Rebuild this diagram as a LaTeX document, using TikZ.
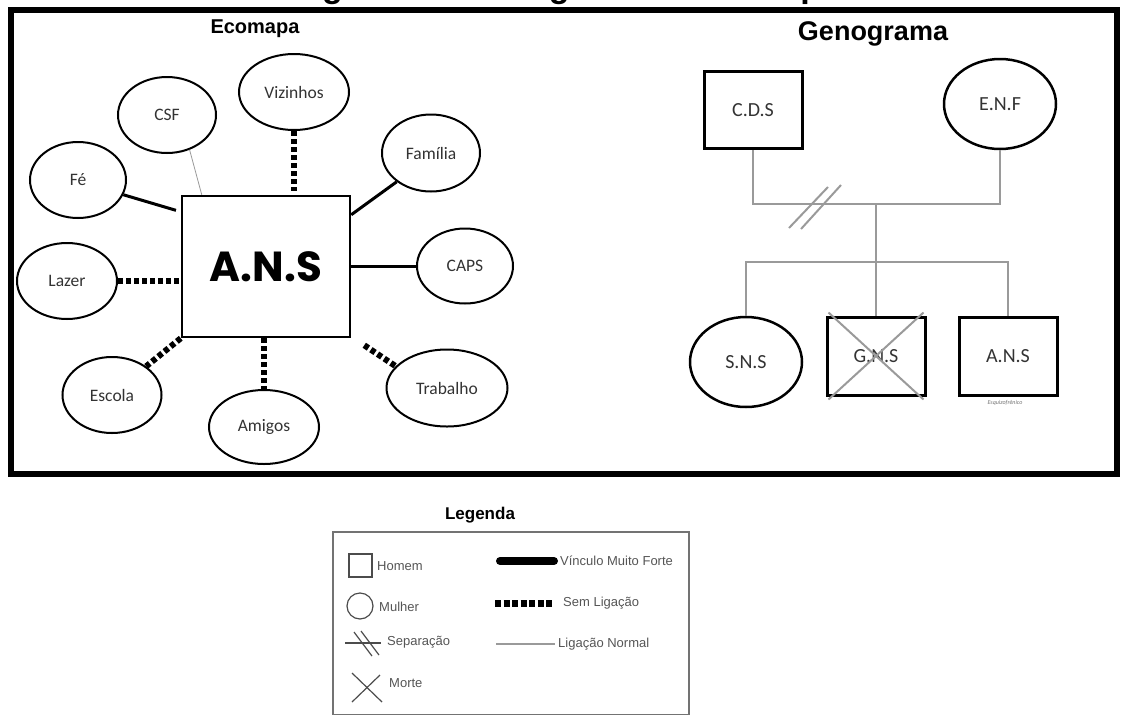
\documentclass[tikz,border=0pt]{standalone}
\usepackage{fontspec}
\setmainfont{Carlito}
\newfontfamily\arialf{Liberation Sans}
\newfontfamily\popf{Poppins}
\usetikzlibrary{shapes.geometric}
\definecolor{gline}{HTML}{9A9A9A}
\definecolor{ltext}{HTML}{555555}
\tikzset{
  eco/.style={ellipse, draw, line width=2pt, inner sep=0pt, text=black!80, font=\fontsize{17.5}{20}\selectfont},
  semlig/.style={line width=6pt, dash pattern=on 5pt off 3pt},
  forte/.style={line width=3pt},
  gbox/.style={rectangle, draw, line width=3pt, inner sep=0pt, minimum width=98pt, minimum height=78pt, text=black!80, font=\fontsize{20}{22}\selectfont},
  gell/.style={ellipse, draw, line width=2.5pt, inner sep=0pt, minimum width=112pt, minimum height=90pt, text=black!80, font=\fontsize{20}{22}\selectfont},
  glink/.style={line width=2pt, draw=gline},
  leg/.style={anchor=west, inner sep=0pt, text=ltext, font=\arialf\fontsize{13}{15}\selectfont},
  legsym/.style={line width=1.2pt, draw=black!70}
}
\begin{document}
\begin{tikzpicture}[x=1pt,y=-1pt]
\useasboundingbox (0,0) rectangle (1128,716);
% title, cut off at the top edge as in the reference
\node[anchor=base, inner sep=0pt, font=\arialf\bfseries\fontsize{34}{40}\selectfont] (title) at (566,-2.5) {Figura 1 – Genograma e Ecomapa};
% frame
\draw[line width=6.5pt] (11,10) rectangle (1117,474);
\node[font=\arialf\bfseries\fontsize{20}{24}\selectfont] (ecot) at (255,29) {Ecomapa};
\node[font=\arialf\bfseries\fontsize{27}{30}\selectfont] (genot) at (873,34) {Genograma};

% ---------- Ecomapa ----------
\node[rectangle, draw, line width=2.5pt, minimum width=168pt, minimum height=141pt, inner sep=0pt,
      font=\popf\bfseries\fontsize{42}{46}\selectfont] (ans) at (266,266.5) {A.N.S};
\node[eco, minimum width=110pt, minimum height=76pt] (viz) at (294,92) {Vizinhos};
\node[eco, minimum width=98pt, minimum height=76pt] (csf) at (167,115) {CSF};
\node[eco, minimum width=96pt, minimum height=76pt] (fe) at (78,180) {Fé};
\node[eco, minimum width=98pt, minimum height=77pt] (fam) at (431,153) {Família};
\node[eco, minimum width=96pt, minimum height=75pt] (caps) at (465,266) {CAPS};
\node[eco, minimum width=100pt, minimum height=76pt] (lazer) at (67,281) {Lazer};
\node[eco, minimum width=99pt, minimum height=76pt] (esc) at (112,395) {Escola};
\node[eco, minimum width=110pt, minimum height=74pt] (ami) at (264,427) {Amigos};
\node[eco, minimum width=121pt, minimum height=77pt] (trab) at (447,388) {Trabalho};

\draw[semlig] (viz.south) -- ([yshift=4pt]viz.south |- ans.north);
\draw[line width=0.8pt, draw=gline] (csf.-57) -- ([xshift=21pt]ans.north west);
\draw[forte, shorten >=5pt] (fe.-18) -- ([yshift=-17pt]ans.north west);
\draw[forte] (fam.220) -- ([yshift=-20pt]ans.north east);
\draw[forte] (ans.east |- caps.west) -- (caps.west);
\draw[semlig] (lazer.east) -- (ans.west |- lazer.east);
\draw[semlig] (ans.south west) -- (esc.40);
\draw[semlig] (ami.north |- ans.south) -- (ami.north);
\draw[semlig] ([xshift=13pt,yshift=-7pt]ans.south east) -- (trab.157);

% ---------- Genograma ----------
\node[gbox, minimum width=98pt, minimum height=77pt] (cds) at (753,110) {C.D.S};
\node[gell] (enf) at (1000,104) {E.N.F};
\node[gell] (sns) at (746,362) {S.N.S};
\node[gbox] (gns) at (876,356) {G.N.S};
\node[gbox] (ans2) at (1008,356) {A.N.S};
\node[font=\itshape\fontsize{6}{7}\selectfont, text=black!55, inner sep=0pt] (esq) at (1005,403) {Esquizofrênico};
\coordinate (m1) at (875,204);
\coordinate (m2) at (875,262);
\draw[glink] (cds.south) -- (cds.south |- m1) -- (enf.south |- m1) -- (enf.south);
\draw[glink] (gns.north |- m1) -- (gns.north);
\draw[glink] (sns.north) -- (sns.north |- m2) -- (ans2.north |- m2) -- (ans2.north);
\draw[glink] (789,228) -- (828,187);
\draw[glink] (801,229) -- (841,185);
\draw[glink] ([shift={(3pt,3pt)}]gns.north west) -- ([shift={(-3pt,-3pt)}]gns.south east);
\draw[glink] ([shift={(-3pt,3pt)}]gns.north east) -- ([shift={(3pt,-3pt)}]gns.south west);

% ---------- Legenda ----------
\node[font=\arialf\bfseries\fontsize{17}{20}\selectfont] (legt) at (480,515) {Legenda};
\draw[line width=1.5pt, draw=black!55] (333,532) rectangle (689,714.5);
\node[rectangle, legsym, draw, minimum width=23pt, minimum height=23pt, inner sep=0pt] (lhom) at (360.5,565.5) {};
\node[circle, legsym, draw, minimum size=26pt, inner sep=0pt] (lmul) at (360,606) {};
\coordinate (lsepA) at (345,643);
\coordinate (lsepB) at (381,643);
\draw[legsym] (lsepA) -- (lsepB);
\draw[legsym] (354,632) -- (372,656);
\draw[legsym] (361,631) -- (379,655);
\draw[legsym] (352,673) -- (382,702);
\draw[legsym] (352,702) -- (380,675);
\node[leg] (thom) at (377,566) {Homem};
\node[leg] (tmul) at (379,607) {Mulher};
\node[leg] (tsep) at (387,642) {Separação};
\node[leg] (tmor) at (389,683) {Morte};
\node[leg] (tvin) at (560,561) {Vínculo Muito Forte};
\node[leg] (tsem) at (563,603) {Sem Ligação};
\node[leg] (tnor) at (558,644) {Ligação Normal};
\draw[line width=8pt, line cap=round] ([xshift=-6pt]tvin.west) ++(-54pt,0) -- ([xshift=-6pt]tvin.west);
\draw[line width=7pt, dash pattern=on 6pt off 2.5pt] ([xshift=-10pt]tsem.west) ++(-58pt,0) -- ([xshift=-10pt]tsem.west);
\draw[line width=1.5pt, draw=gline] ([xshift=-3pt]tnor.west) ++(-59pt,0) -- ([xshift=-3pt]tnor.west);
\end{tikzpicture}
\end{document}
